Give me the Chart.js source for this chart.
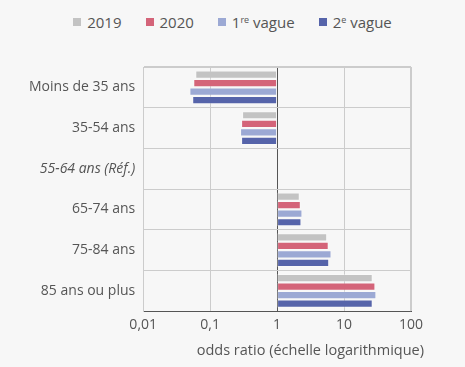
<!DOCTYPE html>
<html lang="fr">
<head>
<meta charset="utf-8">
<script src="https://cdn.jsdelivr.net/npm/chart.js@4"></script>
<style>
    html, body { margin: 0; padding: 0; background: #f7f7f7; }
    #wrap { position: relative; width: 465px; height: 367px; }
    #legende {
        position: absolute; top: 12px; left: 0; width: 465px;
        display: flex; justify-content: center; gap: 24px;
        font-family: "Open Sans", sans-serif; font-size: 15px; color: #555;
    }
    #legende span.item { display: flex; align-items: center; }
    #legende span.box { display: inline-block; width: 8px; height: 8px; margin-right: 6px; }
    #legende sup { font-size: 9px; vertical-align: 5px; line-height: 0; }
    canvas { position: absolute; top: 0; left: 0; }
</style>
</head>
<body>
<div id="wrap">
    <div id="legende"></div>
    <canvas id="oddsChart" width="465" height="367"></canvas>
</div>
<script>
// Tranches d'age
const categories = ['Moins de 35 ans', '35-54 ans', '55-64 ans (Réf.)', '65-74 ans', '75-84 ans', '85 ans ou plus'];

// Odds ratios (null = reference)
const vals2019 = [0.060, 0.30, null, 2.18, 5.6, 26.8];
const vals2020 = [0.056, 0.29, null, 2.26, 5.9, 29.4];
const valsVague1 = [0.049, 0.28, null, 2.39, 6.5, 30.4];
const valsVague2 = [0.054, 0.29, null, 2.31, 6.0, 26.8];

const tickValues = [0.01, 0.1, 1, 10, 100];
const tickLabels = ['0,01', '0,1', '1', '10', '100'];
const titreX = 'odds ratio (échelle logarithmique)';

const series = [
    { nom: '2019', html: '2019', valeurs: vals2019, couleur: '#c3c3c3' },
    { nom: '2020', html: '2020', valeurs: vals2020, couleur: '#d46479' },
    { nom: '1re vague', html: '1<sup>re</sup> vague', valeurs: valsVague1, couleur: '#9ca9d4' },
    { nom: '2e vague', html: '2<sup>e</sup> vague', valeurs: valsVague2, couleur: '#5664aa' }
];

// barres flottantes depuis 1 (odds ratio de reference)
const toBars = arr => arr.map(v => v === null ? null : [1, v]);

const ctx = document.getElementById('oddsChart').getContext('2d');
const chart = new Chart(ctx, {
    type: 'bar',
    data: {
        labels: categories,
        datasets: series.map(s => ({
            label: s.nom,
            data: toBars(s.valeurs),
            backgroundColor: s.couleur,
            borderColor: 'rgba(255, 255, 255, 0.3)',
            borderWidth: 1,
            borderSkipped: false,
            categoryPercentage: 0.84,
            barPercentage: 0.96
        }))
    },
    options: {
        indexAxis: 'y',
        responsive: false,
        animation: false,
        layout: { padding: { top: 67, left: 21, right: 54, bottom: 29 } },
        plugins: {
            legend: { display: false },
            tooltip: { enabled: false }
        },
        scales: {
            x: {
                type: 'logarithmic',
                min: 0.01,
                max: 100,
                afterBuildTicks: axis => {
                    axis.ticks = tickValues.map(v => ({ value: v }));
                },
                ticks: {
                    color: '#555',
                    font: { family: 'Open Sans', size: 14 },
                    padding: 5,
                    maxRotation: 0,
                    callback: (value) => tickLabels[tickValues.indexOf(value)]
                },
                grid: {
                    color: c => (c.tick && c.tick.value === 1) ? '#555' : '#cccccc',
                    lineWidth: 1,
                    drawTicks: false
                },
                border: { color: '#555', width: 1 }
            },
            y: {
                grid: {
                    color: '#cccccc',
                    offset: true,
                    drawTicks: false
                },
                border: { color: '#cccccc' },
                ticks: {
                    color: '#555',
                    padding: 8,
                    font: c => ({
                        family: 'Open Sans',
                        size: 14,
                        style: c.index === 2 ? 'italic' : 'normal'
                    })
                }
            }
        }
    },
    plugins: [{
        // cadre haut et droit + titre de l'axe x
        id: 'cadre',
        afterDraw(c) {
            const a = c.chartArea;
            const g = c.ctx;
            g.save();
            g.strokeStyle = '#cccccc';
            g.lineWidth = 1;
            g.beginPath();
            g.moveTo(a.left, a.top + 0.5);
            g.lineTo(a.right, a.top + 0.5);
            g.moveTo(a.right - 0.5, a.top);
            g.lineTo(a.right - 0.5, a.bottom);
            g.stroke();
            g.fillStyle = '#555';
            g.font = '14.5px "Open Sans"';
            g.textAlign = 'right';
            g.textBaseline = 'middle';
            g.fillText(titreX, a.right + 13, a.bottom + 40);
            g.restore();
        }
    }]
});

// Legende HTML (exposants)
const legende = document.getElementById('legende');
series.forEach(s => {
    const item = document.createElement('span');
    item.classList.add('item');
    item.innerHTML = `<span class="box" style="background:${s.couleur}"></span><span>${s.html}</span>`;
    legende.appendChild(item);
});
</script>
</body>
</html>
